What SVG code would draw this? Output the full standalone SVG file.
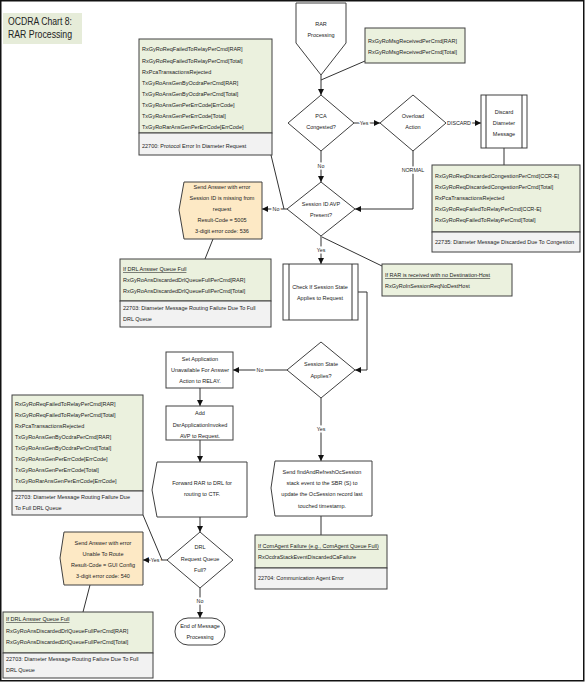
<svg xmlns="http://www.w3.org/2000/svg" width="586" height="682" viewBox="0 0 586 682">
<style>
.bd{fill:none;stroke:#111;stroke-width:1.5}
.g{fill:#ebf1de;stroke:#404040;stroke-width:1}
.gr{fill:#f2f2f2;stroke:#404040;stroke-width:1}
.o{fill:#fde9c5;stroke:#404040;stroke-width:1}
.w{fill:#fff;stroke:#404040;stroke-width:1}
.t{font-family:"Liberation Sans",Arial,sans-serif;font-size:5.5px;fill:#222}
.c{text-anchor:middle}
.u{text-decoration:underline}
.ln{fill:none;stroke:#333;stroke-width:1}
.lbl{font-family:"Liberation Sans",Arial,sans-serif;font-size:5.3px;fill:#222;text-anchor:middle;stroke:#fff;stroke-width:3;paint-order:stroke}
.ttl{font-family:"Liberation Sans",Arial,sans-serif;font-size:10px;fill:#222}
</style>
<defs>
<marker id="ah" markerUnits="userSpaceOnUse" markerWidth="6" markerHeight="6" refX="6" refY="3" orient="auto">
<path d="M0,0 L6,3 L0,6 z" fill="#111"/>
</marker>
</defs>
<rect class="bd" x="0.75" y="0.75" width="583" height="680"/>

<g id="title">
<rect x="3" y="13" width="79" height="31" fill="#e6ecd9"/>
<text class="ttl" x="8" y="25" textLength="64" lengthAdjust="spacingAndGlyphs">OCDRA Chart 8:</text>
<text class="ttl" x="8" y="38" textLength="64" lengthAdjust="spacingAndGlyphs">RAR Processing</text>
</g>

<g id="connectors">
<line class="ln" x1="365" y1="61" x2="321" y2="80"/>
<line class="ln" x1="321" y1="75" x2="321" y2="95" marker-end="url(#ah)"/>
<line class="ln" x1="354" y1="123" x2="380" y2="123" marker-end="url(#ah)"/>
<text class="lbl" x="364" y="125">Yes</text>
<line class="ln" x1="446" y1="123" x2="481" y2="123" marker-end="url(#ah)"/>
<text class="lbl" x="459" y="125">DISCARD</text>
<line class="ln" x1="504" y1="148" x2="504" y2="165"/>
<path class="ln" d="M413,151 V209 H355" marker-end="url(#ah)"/>
<text class="lbl" x="413" y="172">NORMAL</text>
<line class="ln" x1="321" y1="151" x2="321" y2="182" marker-end="url(#ah)"/>
<text class="lbl" x="321" y="168">No</text>
<line class="ln" x1="271" y1="155" x2="284" y2="209"/>
<line class="ln" x1="287" y1="209" x2="262" y2="209" marker-end="url(#ah)"/>
<text class="lbl" x="276" y="211">No</text>
<line class="ln" x1="213" y1="239" x2="205" y2="259"/>
<line class="ln" x1="321" y1="236" x2="321" y2="264" marker-end="url(#ah)"/>
<text class="lbl" x="321" y="252">Yes</text>
<line class="ln" x1="322" y1="237" x2="382" y2="266"/>
<path class="ln" d="M358,292 H367 V370 H355" marker-end="url(#ah)"/>
<line class="ln" x1="287" y1="370" x2="233" y2="370" marker-end="url(#ah)"/>
<text class="lbl" x="260" y="372">No</text>
<line class="ln" x1="200" y1="388" x2="200" y2="406" marker-end="url(#ah)"/>
<line class="ln" x1="200" y1="440" x2="200" y2="462" marker-end="url(#ah)"/>
<line class="ln" x1="200" y1="517" x2="200" y2="532" marker-end="url(#ah)"/>
<line class="ln" x1="143" y1="515" x2="162" y2="560"/>
<line class="ln" x1="167" y1="560" x2="143" y2="560" marker-end="url(#ah)"/>
<text class="lbl" x="155" y="562">Yes</text>
<line class="ln" x1="90" y1="585" x2="83" y2="612"/>
<line class="ln" x1="200" y1="588" x2="200" y2="618" marker-end="url(#ah)"/>
<text class="lbl" x="200" y="603">No</text>
<line class="ln" x1="321" y1="398" x2="321" y2="461" marker-end="url(#ah)"/>
<text class="lbl" x="321" y="431">Yes</text>
<line class="ln" x1="321" y1="516" x2="321" y2="535"/>
</g>

<g id="start">
<polygon class="w" points="296,3 346,3 346,43 321,75 296,43"/>
<text class="t c" x="321" y="26">RAR</text>
<text class="t c" x="321" y="37">Processing</text>
</g>

<g id="msgReceived">
<rect class="g" x="365" y="28" width="100" height="35"/>
<text class="t" x="368" y="43">RxGyRoMsgReceivedPerCmd[RAR]</text>
<text class="t" x="368" y="54">RxGyRoMsgReceivedPerCmd[Total]</text>
</g>

<g id="protocolError">
<rect class="g" x="139" y="39" width="133" height="94"/>
<rect class="gr" x="139" y="133" width="133" height="22"/>
<text class="t" x="142" y="51">RxGyRoReqFailedToRelayPerCmd[RAR]</text>
<text class="t" x="142" y="63">RxGyRoReqFailedToRelayPerCmd[Total]</text>
<text class="t" x="142" y="74">RxPcaTransactionsRejected</text>
<text class="t" x="142" y="85">TxGyRoAnsGenByOcdraPerCmd[RAR]</text>
<text class="t" x="142" y="96">TxGyRoAnsGenByOcdraPerCmd[Total]</text>
<text class="t" x="142" y="107">TxGyRoAnsGenPerErrCode[ErrCode]</text>
<text class="t" x="142" y="118">TxGyRoAnsGenPerErrCode[Total]</text>
<text class="t" x="142" y="129">TxGyRoRarAnsGenPerErrCode[ErrCode]</text>
<text class="t" x="142" y="148">22700: Protocol Error In Diameter Request</text>
</g>

<g id="pcaCongested">
<polygon class="w" points="321,95 354,123 321,151 288,123"/>
<text class="t c" x="321" y="118">PCA</text>
<text class="t c" x="321" y="129">Congested?</text>
</g>

<g id="overloadAction">
<polygon class="w" points="413,95 446,123 413,151 380,123"/>
<text class="t c" x="413" y="118">Overload</text>
<text class="t c" x="413" y="129">Action</text>
</g>

<g id="discard">
<rect class="w" x="481" y="95" width="46" height="53"/>
<line class="ln" x1="486" y1="95" x2="486" y2="148"/>
<line class="ln" x1="522" y1="95" x2="522" y2="148"/>
<text class="t c" x="504" y="114">Discard</text>
<text class="t c" x="504" y="125">Diameter</text>
<text class="t c" x="504" y="136">Message</text>
</g>

<g id="congestion">
<rect class="g" x="432" y="165" width="148" height="67"/>
<rect class="gr" x="432" y="232" width="148" height="20"/>
<text class="t" x="435" y="178">RxGyRoReqDiscardedCongestionPerCmd[CCR-E]</text>
<text class="t" x="435" y="189">RxGyRoReqDiscardedCongestionPerCmd[Total]</text>
<text class="t" x="435" y="200">RxPcaTransactionsRejected</text>
<text class="t" x="435" y="211">RxGyRoReqFailedToRelayPerCmd[CCR-E]</text>
<text class="t" x="435" y="222">RxGyRoReqFailedToRelayPerCmd[Total]</text>
<text class="t" x="435" y="244">22735: Diameter Message Discarded Due To Congestion</text>
</g>

<g id="sessionIdPresent">
<polygon class="w" points="321,182 355,209 321,236 287,209"/>
<text class="t c" x="321" y="206">Session ID AVP</text>
<text class="t c" x="321" y="217">Present?</text>
</g>

<g id="sendAnswer1">
<polygon class="o" points="184,182 262,182 262,239 184,239 179,210"/>
<text class="t c" x="222" y="189">Send Answer with error</text>
<text class="t c" x="222" y="200">Session ID is missing from</text>
<text class="t c" x="222" y="211">request</text>
<text class="t c" x="222" y="222">Result-Code = 5005</text>
<text class="t c" x="222" y="233">3-digit error code: 536</text>
</g>

<g id="drlQueueFull1">
<rect class="g" x="120" y="259" width="151" height="42"/>
<rect class="gr" x="120" y="301" width="151" height="26"/>
<text class="t u" x="123" y="271">If DRL Answer Queue Full</text>
<text class="t" x="123" y="282">RxGyRoAnsDiscardedDrlQueueFullPerCmd[RAR]</text>
<text class="t" x="123" y="293">RxGyRoAnsDiscardedDrlQueueFullPerCmd[Total]</text>
<text class="t" x="123" y="310">22703: Diameter Message Routing Failure Due To Full</text>
<text class="t" x="123" y="321">DRL Queue</text>
</g>

<g id="checkSessionState">
<rect class="w" x="283" y="264" width="75" height="56"/>
<line class="ln" x1="289" y1="264" x2="289" y2="320"/>
<line class="ln" x1="352" y1="264" x2="352" y2="320"/>
<text class="t c" x="320" y="289">Check If Session State</text>
<text class="t c" x="320" y="300">Applies to Request</text>
</g>

<g id="noDestHost">
<rect class="g" x="382" y="264" width="130" height="32"/>
<text class="t u" x="385" y="277">If RAR is received with no Destination-Host</text>
<text class="t" x="385" y="288">RxGyRoInSessionReqNoDestHost</text>
</g>

<g id="sessionStateApplies">
<polygon class="w" points="321,342 355,370 321,398 287,370"/>
<text class="t c" x="321" y="366">Session State</text>
<text class="t c" x="321" y="378">Applies?</text>
</g>

<g id="setApplication">
<rect class="w" x="166" y="352" width="67" height="36"/>
<text class="t c" x="200" y="361">Set Application</text>
<text class="t c" x="200" y="372">Unavailable For Answer</text>
<text class="t c" x="200" y="383">Action to RELAY.</text>
</g>

<g id="addAvp">
<rect class="w" x="166" y="406" width="67" height="34"/>
<text class="t c" x="200" y="415">Add</text>
<text class="t c" x="200" y="427">DsrApplicationInvoked</text>
<text class="t c" x="200" y="438">AVP to Request.</text>
</g>

<g id="forwardRar">
<polygon class="w" points="157,462 247,462 247,517 157,517 152,490"/>
<text class="t c" x="202" y="485">Forward RAR to DRL for</text>
<text class="t c" x="202" y="496">routing to CTF.</text>
</g>

<g id="protocolError2">
<rect class="g" x="12" y="395" width="131" height="96"/>
<rect class="gr" x="12" y="491" width="131" height="24"/>
<text class="t" x="15" y="406">RxGyRoReqFailedToRelayPerCmd[RAR]</text>
<text class="t" x="15" y="417">RxGyRoReqFailedToRelayPerCmd[Total]</text>
<text class="t" x="15" y="428">RxPcaTransactionsRejected</text>
<text class="t" x="15" y="439">TxGyRoAnsGenByOcdraPerCmd[RAR]</text>
<text class="t" x="15" y="450">TxGyRoAnsGenByOcdraPerCmd[Total]</text>
<text class="t" x="15" y="461">TxGyRoAnsGenPerErrCode[ErrCode]</text>
<text class="t" x="15" y="472">TxGyRoAnsGenPerErrCode[Total]</text>
<text class="t" x="15" y="483">TxGyRoRarAnsGenPerErrCode[ErrCode]</text>
<text class="t" x="15" y="499">22703: Diameter Message Routing Failure Due</text>
<text class="t" x="15" y="510">To Full DRL Queue</text>
</g>

<g id="drlRequestQueueFull">
<polygon class="w" points="200,532 233,560 200,588 167,560"/>
<text class="t c" x="200" y="549">DRL</text>
<text class="t c" x="200" y="561">Request Queue</text>
<text class="t c" x="200" y="572">Full?</text>
</g>

<g id="sendAnswer2">
<polygon class="o" points="64,532 143,532 143,585 64,585 60,558"/>
<text class="t c" x="103" y="545">Send Answer with error</text>
<text class="t c" x="103" y="556">Unable To Route</text>
<text class="t c" x="103" y="567">Result-Code = GUI Config</text>
<text class="t c" x="103" y="578">3-digit error code: 540</text>
</g>

<g id="drlQueueFull2">
<rect class="g" x="3" y="612" width="150" height="41"/>
<rect class="gr" x="3" y="653" width="150" height="25"/>
<text class="t u" x="6" y="621">If DRL Answer Queue Full</text>
<text class="t" x="6" y="633">RxGyRoAnsDiscardedDrlQueueFullPerCmd[RAR]</text>
<text class="t" x="6" y="644">RxGyRoAnsDiscardedDrlQueueFullPerCmd[Total]</text>
<text class="t" x="6" y="661">22703: Diameter Message Routing Failure Due To Full</text>
<text class="t" x="6" y="672">DRL Queue</text>
</g>

<g id="endProcessing">
<rect class="w" x="175" y="618" width="50" height="27" rx="13" ry="13"/>
<text class="t c" x="200" y="628">End of Message</text>
<text class="t c" x="200" y="639">Processing</text>
</g>

<g id="sendFindAndRefresh">
<polygon class="w" points="275,461 372,461 372,516 275,516 271,488"/>
<text class="t c" x="322" y="474">Send findAndRefreshOcSession</text>
<text class="t c" x="322" y="485">stack event to the SBR (S) to</text>
<text class="t c" x="322" y="496">update the OcSession record last</text>
<text class="t c" x="322" y="508">touched timestamp.</text>
</g>

<g id="comAgentFailure">
<rect class="g" x="255" y="535" width="132" height="33"/>
<rect class="gr" x="255" y="568" width="132" height="21"/>
<text class="t u" x="258" y="548">If ComAgent Failure (e.g., ComAgent Queue Full)</text>
<text class="t" x="258" y="559">RxOcdraStackEventDiscardedCaFailure</text>
<text class="t" x="258" y="580">22704: Communication Agent Error</text>
</g>
</svg>
